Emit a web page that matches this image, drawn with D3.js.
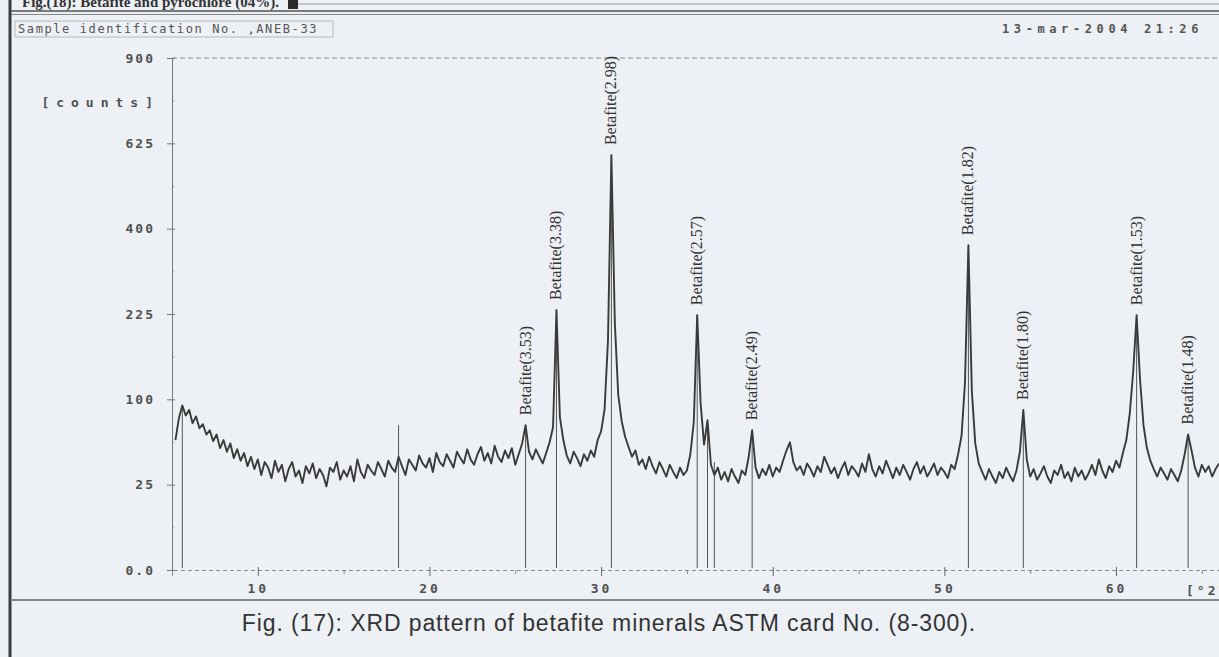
<!DOCTYPE html>
<html>
<head>
<meta charset="utf-8">
<script src="https://cdn.jsdelivr.net/npm/d3@7"></script>
<style>
  html, body { margin: 0; padding: 0; background: #edf0f4; }
  svg { display: block; }
</style>
</head>
<body>
<svg id="chart" width="1219" height="657"></svg>
<script>
// Scan: intensity (counts) sampled every scanStep degrees 2Theta from scanStart
const scanStart = 5.2;
const scanStep = 0.2;
const counts = [
  58, 79, 93, 82, 88, 74, 81, 69, 73, 63,
  67, 57, 63, 51, 58, 48, 55, 43, 50, 41,
  47, 37, 44, 35, 42, 31, 40, 36, 29, 41,
  33, 38, 27, 35, 40, 30, 34, 26, 37, 32,
  39, 29, 35, 31, 24, 36, 33, 40, 28, 34,
  30, 37, 27, 42, 33, 29, 38, 34, 31, 40,
  35, 30, 41, 36, 33, 44, 37, 31, 42, 38,
  34, 45, 39, 36, 43, 33, 47, 40, 37, 46,
  41, 36, 48, 43, 39, 50, 42, 38, 46, 52,
  41, 47, 39, 53, 44, 40, 49, 43, 51, 38,
  46, 55, 72, 48, 42, 50, 44, 39, 47, 56,
  70, 232, 80, 58, 45, 39, 48, 43, 37, 46,
  41, 49, 44, 58, 66, 88, 180, 591, 210, 105,
  76, 61, 52, 44, 49, 38, 42, 35, 44, 37,
  32, 40, 35, 30, 38, 33, 29, 36, 31, 34,
  46, 75, 223, 95, 54, 77, 38, 31, 36, 28,
  33, 27, 35, 30, 26, 34, 31, 44, 67, 36,
  29, 35, 31, 38, 30, 36, 33, 41, 49, 56,
  40, 34, 37, 31, 39, 35, 30, 37, 33, 44,
  38, 32, 36, 29, 35, 40, 31, 37, 34, 30,
  39, 33, 46, 35, 30, 37, 32, 41, 35, 29,
  36, 31, 38, 33, 28, 35, 40, 32, 37, 30,
  34, 39, 31, 36, 33, 29, 38, 35, 46, 62,
  120, 362, 110, 55, 39, 33, 28, 35, 30, 26,
  33, 29, 36, 31, 27, 34, 48, 88, 42, 30,
  35, 28, 32, 37, 30, 26, 34, 31, 38, 29,
  33, 27, 36, 30, 34, 28, 32, 38, 31, 42,
  34, 29, 37, 33, 41, 36, 47, 58, 84, 135,
  223, 125, 72, 51, 41, 35, 30, 36, 32, 28,
  35, 31, 27, 34, 46, 63, 49, 36, 30, 38,
  33, 37, 30, 35, 39
];

// Reference peak markers (degrees 2Theta, counts, d-spacing label)
const refPositions = [5.6, 18.2, 25.6, 27.4, 30.6, 35.6, 36.2, 36.6, 38.8, 51.4, 54.6, 61.2, 64.2];
const refCounts    = [93, 72, 72, 232, 591, 223, 77, 40, 67, 362, 88, 223, 63];
const refLabels    = ["", "", "Betafite(3.53)", "Betafite(3.38)", "Betafite(2.98)", "Betafite(2.57)", "", "",
                      "Betafite(2.49)", "Betafite(1.82)", "Betafite(1.80)", "Betafite(1.53)", "Betafite(1.48)"];

const yTickValues = [0, 25, 100, 225, 400, 625, 900];
const yTickLabels = ["0.0", "25", "100", "225", "400", "625", "900"];
const yMinorValues = [6.25, 56.25, 156.25, 306.25, 506.25, 756.25];
const xTickValues = [10, 20, 30, 40, 50, 60];
const xTickLabels = ["10", "20", "30", "40", "50", "60"];
const xMinorValues = [5, 15, 25, 35, 45, 55, 65];

const yAxisTitle = "[counts]";
const xAxisTitle = "[°2Theta]";
const sampleText = "Sample identification No. ,ANEB-33";
const dateText = "13-mar-2004 21:26";
const previousTitle = "Fig.(18): Betafite and pyrochlore (04%).";
const figureTitle = "Fig. (17): XRD pattern of betafite minerals ASTM card No. (8-300).";

const svg = d3.select("#chart");
const W = 1219, H = 657;
const plot = { left: 172, right: 1219, top: 58, bottom: 570 };

const x = d3.scaleLinear().domain([5, 66]).range([plot.left, plot.right]);
const y = d3.scaleSqrt().domain([0, 900]).range([plot.bottom, plot.top]);

const ink = "#3a3a3a";
const mono = "'DejaVu Sans Mono', 'Liberation Mono', monospace";

// page frame
svg.append("rect").attr("width", W).attr("height", H).attr("fill", "#edf0f4");
svg.append("line").attr("x1", 10).attr("x2", W).attr("y1", 11).attr("y2", 11)
  .attr("stroke", "#555").attr("stroke-width", 1.5);
svg.append("line").attr("x1", 10).attr("x2", W).attr("y1", 14.5).attr("y2", 14.5)
  .attr("stroke", "#888").attr("stroke-width", 1);
svg.append("line").attr("x1", 10).attr("x2", 10).attr("y1", 0).attr("y2", H)
  .attr("stroke", "#3c3c3c").attr("stroke-width", 3);
svg.append("line").attr("x1", 10).attr("x2", W).attr("y1", 600).attr("y2", 600)
  .attr("stroke", "#666").attr("stroke-width", 1.5);

// previous figure caption, cut by the top edge
svg.append("text").attr("x", 22).attr("y", 7)
  .attr("font-family", "'Liberation Serif', serif").attr("font-size", 15).attr("font-weight", "bold")
  .attr("fill", "#333").text(previousTitle);
svg.append("rect").attr("x", 288).attr("y", 0).attr("width", 10).attr("height", 9).attr("fill", "#2a2a2a");
svg.append("line").attr("x1", 298).attr("x2", W).attr("y1", 4).attr("y2", 4)
  .attr("stroke", "#999").attr("stroke-width", 1);

// header line of the instrument plot
svg.append("rect").attr("x", 15).attr("y", 21).attr("width", 318).attr("height", 16)
  .attr("fill", "none").attr("stroke", "#aaa").attr("stroke-width", 0.8);
svg.append("text").attr("x", 18).attr("y", 33)
  .attr("font-family", mono).attr("font-size", 12).attr("letter-spacing", 1.6)
  .attr("fill", "#555").text(sampleText);
svg.append("text").attr("x", 1002).attr("y", 33)
  .attr("font-family", mono).attr("font-size", 12).attr("font-weight", "bold").attr("letter-spacing", 4.6)
  .attr("fill", "#555").text(dateText);

// top border of the plot
svg.append("line").attr("x1", plot.left).attr("x2", plot.right).attr("y1", plot.top).attr("y2", plot.top)
  .attr("stroke", "#888").attr("stroke-dasharray", "5,3");

// y axis
const yAxis = svg.append("g").attr("transform", `translate(${plot.left},0)`)
  .call(d3.axisLeft(y).tickValues(yTickValues).tickFormat((d, i) => yTickLabels[i]).tickSize(5).tickPadding(12));
yAxis.select(".domain").attr("stroke", "#777");
yAxis.selectAll(".tick line").attr("stroke", "#777").attr("x2", 3).attr("x1", -5);
yAxis.selectAll(".tick text").attr("font-family", mono).attr("font-size", 13).attr("font-weight", "bold")
  .attr("letter-spacing", 2).attr("fill", "#505050");
svg.append("g").attr("transform", `translate(${plot.left},0)`)
  .call(d3.axisLeft(y).tickValues(yMinorValues).tickFormat("").tickSize(3))
  .call(g => g.select(".domain").remove())
  .selectAll(".tick line").attr("stroke", "#888").attr("x2", 2);
svg.append("text").attr("x", 160).attr("y", 107).attr("text-anchor", "end")
  .attr("font-family", mono).attr("font-size", 13).attr("font-weight", "bold").attr("letter-spacing", 7)
  .attr("fill", "#505050").text(yAxisTitle);

// x axis
const xAxis = svg.append("g").attr("transform", `translate(0,${plot.bottom})`)
  .call(d3.axisBottom(x).tickValues(xTickValues).tickFormat((d, i) => xTickLabels[i]).tickSize(6).tickPadding(8));
xAxis.select(".domain").attr("stroke", "#888").attr("stroke-dasharray", "4,3");
xAxis.selectAll(".tick line").attr("stroke", "#666").attr("y1", -3);
xAxis.selectAll(".tick text").attr("font-family", mono).attr("font-size", 13).attr("font-weight", "bold")
  .attr("letter-spacing", 3).attr("fill", "#505050");
svg.append("g").attr("transform", `translate(0,${plot.bottom})`)
  .call(d3.axisBottom(x).tickValues(xMinorValues).tickFormat("").tickSize(4))
  .call(g => g.select(".domain").remove())
  .selectAll(".tick line").attr("stroke", "#888");
svg.append("text").attr("x", 1186).attr("y", 595)
  .attr("font-family", mono).attr("font-size", 13).attr("font-weight", "bold").attr("letter-spacing", 3)
  .attr("fill", "#505050").text(xAxisTitle);

// reference markers from the axis up to each peak
const refs = refPositions.map((p, i) => ({ pos: p, count: refCounts[i], label: refLabels[i] }));
svg.append("g").selectAll("line").data(refs).join("line")
  .attr("x1", d => x(d.pos)).attr("x2", d => x(d.pos))
  .attr("y1", y(0) - 2).attr("y2", d => y(d.count))
  .attr("stroke", "#555").attr("stroke-width", 1);

// measured scan
svg.append("clipPath").attr("id", "plot-clip").append("rect")
  .attr("x", plot.left).attr("y", plot.top).attr("width", plot.right - plot.left).attr("height", plot.bottom - plot.top);
const line = d3.line().x((d, i) => x(scanStart + i * scanStep)).y(d => y(d));
svg.append("path").datum(counts)
  .attr("clip-path", "url(#plot-clip)")
  .attr("d", line).attr("fill", "none").attr("stroke", ink)
  .attr("stroke-width", 1.9).attr("stroke-linejoin", "round");

// peak labels, written upward above each marker
svg.append("g").selectAll("text").data(refs.filter(d => d.label)).join("text")
  .attr("transform", d => `translate(${x(d.pos) + 5},${y(d.count) - 10}) rotate(-90)`)
  .attr("font-family", "'Liberation Serif', serif").attr("font-size", 16)
  .attr("fill", "#333").text(d => d.label);

// figure caption
svg.append("text").attr("x", 609).attr("y", 631).attr("text-anchor", "middle")
  .attr("font-family", "'Liberation Sans', Arial, sans-serif").attr("font-size", 23).attr("letter-spacing", 0.9)
  .attr("fill", "#333").text(figureTitle);
</script>
</body>
</html>
